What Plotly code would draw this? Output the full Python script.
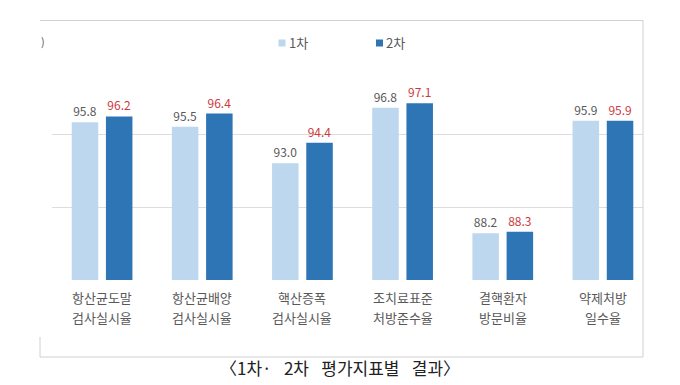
import plotly.graph_objects as go

line1 = ["항산균도말", "항산균배양", "핵산증폭", "조치료표준", "결핵환자", "약제처방"]
line2 = ["검사실시율", "검사실시율", "검사실시율", "처방준수율", "방문비율", "일수율"]
first_values = [95.8, 95.5, 93.0, 96.8, 88.2, 95.9]
second_values = [96.2, 96.4, 94.4, 97.1, 88.3, 95.9]
series_names = ["1차", "2차"]
caption = "〈1차·\u2002 2차\u2002 평가지표별\u2002 결과〉"

FONT = "Noto Sans CJK KR"
LIGHT = "#BDD7EE"
DARK = "#2E75B6"
GRAY = "#595959"
RED = "#CC3B3B"
BORDER = "#D0D0D0"

OFF = 8  # page body margin
W, H = 680 - OFF, 385 - OFF
# plot area in reference pixel coords: x 52..643, y 61..280
L, R, T, B = 52 - OFF, 680 - 643, 61 - OFF, 385 - 280
PW, PH = W - L - R, H - T - B


def px(x):
    return (x - OFF - L) / PW


def py(y):
    return (H - B - (y - OFF)) / PH


xs = list(range(len(line1)))

fig = go.Figure()
fig.add_trace(go.Bar(x=xs, y=first_values, name=series_names[0], marker_color=LIGHT,
                     marker_line_width=0,
                     text=[f"{v:.1f}" for v in first_values], textposition="outside",
                     textfont=dict(color=GRAY, size=12, family=FONT), cliponaxis=False))
fig.add_trace(go.Bar(x=xs, y=second_values, name=series_names[1], marker_color=DARK,
                     marker_line_width=0,
                     text=[f"{v:.1f}" for v in second_values], textposition="outside",
                     textfont=dict(color=RED, size=12, family=FONT), cliponaxis=False))

annotations = []
for i in xs:
    annotations.append(dict(x=i, y=py(297), xref="x", yref="paper", text=line1[i],
                            showarrow=False, xanchor="center", yanchor="middle",
                            font=dict(size=13, color=GRAY, family=FONT)))
    annotations.append(dict(x=i, y=py(317.5), xref="x", yref="paper", text=line2[i],
                            showarrow=False, xanchor="center", yanchor="middle",
                            font=dict(size=13, color=GRAY, family=FONT)))

# legend (manual)
leg = [(282, series_names[0], LIGHT), (379.5, series_names[1], DARK)]
shapes = []
for cx, name, col in leg:
    shapes.append(dict(type="rect", xref="paper", yref="paper",
                       x0=px(cx - 3.5), x1=px(cx + 3.5), y0=py(46.5), y1=py(39.5),
                       fillcolor=col, line=dict(width=0)))
    annotations.append(dict(x=px(cx + 4.5), y=py(43), xref="paper", yref="paper", text=name,
                            showarrow=False, xanchor="left", yanchor="middle",
                            font=dict(size=13, color=GRAY, family=FONT)))

# unit fragment
annotations.append(dict(x=px(43), y=py(41), xref="paper", yref="paper", text=")",
                        showarrow=False, xanchor="center", yanchor="middle",
                        font=dict(size=11, color=GRAY, family=FONT)))

# caption
annotations.append(dict(x=px(340), y=py(367), xref="paper", yref="paper", text=caption,
                        showarrow=False, xanchor="center", yanchor="middle",
                        font=dict(size=17, color="#222222", family=FONT)))

# border lines
line = dict(color=BORDER, width=1)
shapes += [
    dict(type="line", xref="paper", yref="paper", x0=px(40), x1=px(643), y0=py(20.5), y1=py(20.5), line=line),
    dict(type="line", xref="paper", yref="paper", x0=px(643), x1=px(643), y0=py(20.5), y1=py(357), line=line),
    dict(type="line", xref="paper", yref="paper", x0=px(40), x1=px(643), y0=py(357), y1=py(357), line=line),
    dict(type="line", xref="paper", yref="paper", x0=px(40), x1=px(40), y0=py(337), y1=py(357), line=line),
]

fig.update_layout(
    width=W, height=H,
    margin=dict(l=L, r=R, t=T, b=B, pad=0),
    paper_bgcolor="white", plot_bgcolor="white",
    barmode="group", bargap=0.317, bargroupgap=0.225,
    showlegend=False,
    font=dict(family=FONT, color=GRAY),
    xaxis=dict(range=[-0.5, 5.4], showticklabels=False, showgrid=False, zeroline=False,
               showline=False, ticks="", fixedrange=True),
    yaxis=dict(range=[85, 100], tick0=85, dtick=5, showticklabels=False, showgrid=True,
               gridcolor="#DDDDDD", gridwidth=1, zeroline=False, showline=False, ticks=""),
    annotations=annotations,
    shapes=shapes,
)

fig.write_html("out.html")
